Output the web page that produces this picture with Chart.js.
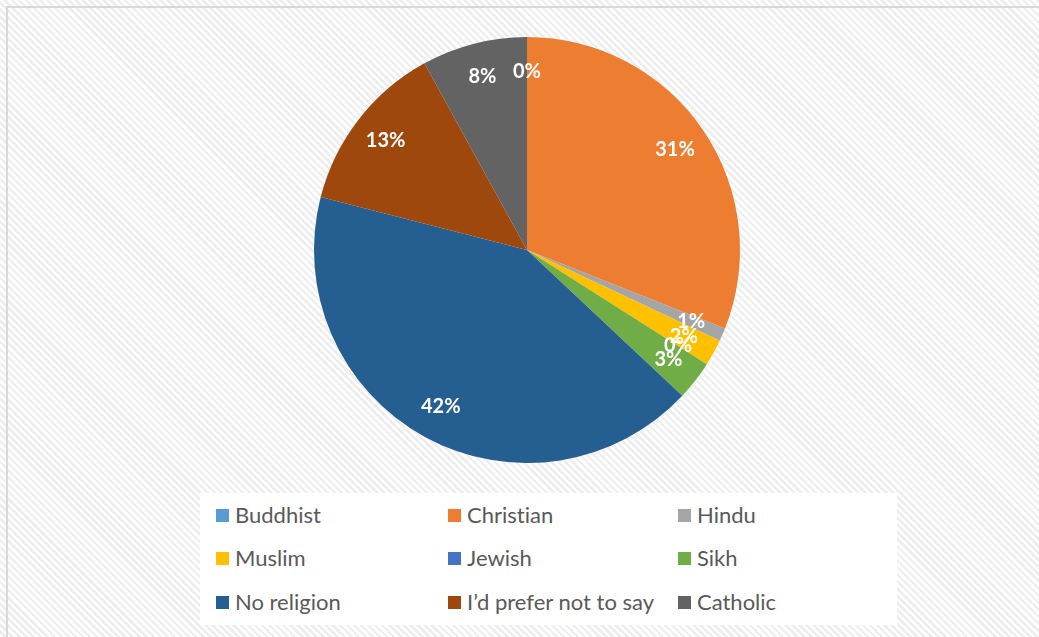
<!DOCTYPE html>
<html>
<head>
<meta charset="utf-8">
<script src="https://cdn.jsdelivr.net/npm/chart.js@4/dist/chart.umd.min.js"></script>
<style>
    body { margin: 0; }
    #wrap {
        position: relative;
        width: 1039px;
        height: 637px;
        overflow: hidden;
        background: repeating-linear-gradient(45deg, #ffffff 0px, #ffffff 2.5px, #eeeeee 2.5px, #eeeeee 5px);
    }
    #frame {
        position: absolute;
        left: 6px;
        top: 6px;
        width: 1100px;
        height: 700px;
        border: 2px solid #d9d9d9;
        box-sizing: border-box;
    }
    #chartBox {
        position: absolute;
        left: 0;
        top: 0;
        width: 1039px;
        height: 637px;
    }
    #legend {
        position: absolute;
        left: 200px;
        top: 493px;
        width: 697px;
        height: 132px;
        background: #ffffff;
        font-family: Lato, "Open Sans", sans-serif;
        font-size: 22px;
        font-variant-ligatures: none;
        color: #595959;
    }
    .item {
        position: absolute;
        white-space: nowrap;
        line-height: 22px;
    }
    .swatch {
        position: absolute;
        width: 13px;
        height: 13px;
        top: 5px;
    }
    .item span.txt {
        position: absolute;
        left: 19px;
        top: 0;
    }
</style>
</head>
<body>
<div id="wrap">
    <div id="frame"></div>
    <div id="chartBox"><canvas id="religionChart"></canvas></div>
    <div id="legend"></div>
</div>
<script>
const religions = ['Buddhist', 'Christian', 'Hindu', 'Muslim', 'Jewish', 'Sikh', 'No religion', 'I\u2019d prefer not to say', 'Catholic'];
const shares = [0, 31, 1, 2, 0, 3, 42, 13, 8];
const sliceColors = ['#5B9BD5', '#ED7D31', '#A5A5A5', '#FFC000', '#4472C4', '#70AD47', '#255E91', '#9E480E', '#636363'];

// percentage labels drawn inside each slice
const sliceLabels = {
    id: 'sliceLabels',
    afterDatasetsDraw(chart) {
        const ctx = chart.ctx;
        const meta = chart.getDatasetMeta(0);
        const values = chart.data.datasets[0].data;
        const total = values.reduce((s, v) => s + v, 0);
        ctx.save();
        ctx.fillStyle = '#ffffff';
        ctx.font = 'bold 20px Lato, "Open Sans", sans-serif';
        ctx.textAlign = 'center';
        ctx.textBaseline = 'middle';
        meta.data.forEach((arc, i) => {
            const p = arc.getProps(['x', 'y', 'startAngle', 'endAngle', 'outerRadius'], true);
            const mid = (p.startAngle + p.endAngle) / 2;
            const r = p.outerRadius * 0.84;
            const pct = Math.round(values[i] / total * 100) + '%';
            ctx.fillText(pct, p.x + Math.cos(mid) * r, p.y + Math.sin(mid) * r);
        });
        ctx.restore();
    }
};

new Chart(document.getElementById('religionChart'), {
    type: 'pie',
    data: {
        labels: religions,
        datasets: [{
            data: shares,
            backgroundColor: sliceColors,
            borderWidth: 0
        }]
    },
    options: {
        responsive: true,
        maintainAspectRatio: false,
        animation: false,
        layout: {
            padding: { top: 37, bottom: 174, left: 15, right: 0 }
        },
        plugins: {
            legend: { display: false },
            tooltip: { enabled: false }
        }
    },
    plugins: [sliceLabels]
});

// legend laid out in three columns
const colX = [16, 248, 478];
const rowY = [11, 54, 98];
const legend = document.getElementById('legend');
religions.forEach((name, i) => {
    const item = document.createElement('div');
    item.className = 'item';
    item.style.left = colX[i % 3] + 'px';
    item.style.top = rowY[Math.floor(i / 3)] + 'px';
    item.innerHTML = `<div class="swatch" style="background:${sliceColors[i]}"></div><span class="txt">${name}</span>`;
    legend.appendChild(item);
});
</script>
</body>
</html>
